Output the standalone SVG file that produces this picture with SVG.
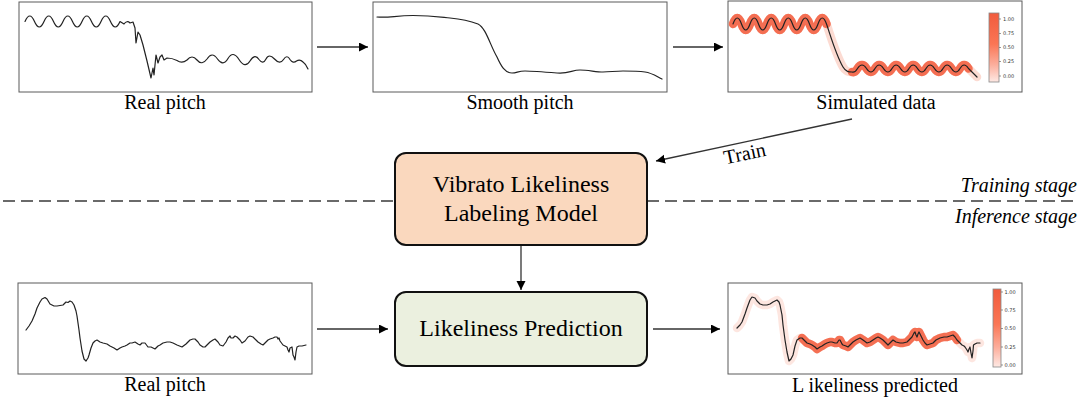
<svg xmlns="http://www.w3.org/2000/svg" width="1091" height="410" viewBox="0 0 1091 410">
<defs>
<style>
.frame{fill:#fff;stroke:#5a5a5a;stroke-width:1}
.pitch{fill:none;stroke:#222;stroke-width:1.2;stroke-linejoin:round;stroke-linecap:round}
.band-red{fill:none;stroke:#f36547;stroke-width:8.5;stroke-linejoin:round;stroke-linecap:round;opacity:0.92}
.band-pink{fill:none;stroke:#fbd2c7;stroke-width:8.5;stroke-linejoin:round;stroke-linecap:round;opacity:0.8}
.lbl{font-family:"Liberation Serif","Times New Roman",serif;font-size:20px;fill:#000;text-anchor:middle}
.boxtxt{font-family:"Liberation Serif","Times New Roman",serif;font-size:24px;fill:#000;text-anchor:middle}
.stage{font-family:"Liberation Serif","Times New Roman",serif;font-size:20px;font-style:italic;fill:#000;text-anchor:end}
.tick{font-family:"DejaVu Sans",sans-serif;font-size:5px;fill:#333}
.cbar{stroke:#888;stroke-width:0.8}
.tk{stroke:#555;stroke-width:0.6}
.arrow{fill:none;stroke:#333;stroke-width:1.3}
.dash{fill:none;stroke:#3a3a3a;stroke-width:1.5;stroke-dasharray:12 6}
.node{stroke:#111;stroke-width:2}
</style>
<marker id="ah" markerUnits="userSpaceOnUse" markerWidth="10" markerHeight="10" refX="9" refY="4.5" orient="auto">
<path d="M0,0 L9,4.5 L0,9 z" fill="#000"/>
</marker>
<linearGradient id="cb" x1="0" y1="0" x2="0" y2="1">
<stop offset="0" stop-color="#f15b3d"/>
<stop offset="0.45" stop-color="#fa7655"/>
<stop offset="0.75" stop-color="#fcae9c"/>
<stop offset="1" stop-color="#fee9e4"/>
</linearGradient>
</defs>
<rect width="1091" height="410" fill="#fff"/>

<g id="connectors">
<line class="dash" x1="3" y1="201" x2="395" y2="201"/>
<line class="dash" x1="647" y1="201" x2="1073" y2="201"/>
<line class="arrow" x1="317" y1="47" x2="368" y2="47" marker-end="url(#ah)"/>
<line class="arrow" x1="673" y1="47" x2="723" y2="47" marker-end="url(#ah)"/>
<line class="arrow" x1="852" y1="119" x2="656" y2="161" marker-end="url(#ah)"/>
<text class="lbl" transform="translate(746,160) rotate(-12)" font-size="19">Train</text>
<line class="arrow" x1="521" y1="245" x2="521" y2="290" marker-end="url(#ah)"/>
<line class="arrow" x1="317" y1="329" x2="388" y2="329" marker-end="url(#ah)"/>
<line class="arrow" x1="653" y1="329" x2="720" y2="329" marker-end="url(#ah)"/>
</g>

<g id="stage-labels">
<text class="stage" x="1077" y="192">Training stage</text>
<text class="stage" x="1077" y="223">Inference stage</text>
</g>

<g id="real-pitch-top">
<rect class="frame" x="19" y="2" width="293" height="90"/>
<path class="pitch" d="M25,21.5 Q29.75,10.5 34.5,21.5 T44,21.5 T53.5,21.5 T63,21.5 T72.5,21.5 T82,21.5 T91.5,21.5 T101,21.5 T110.5,21.5 T120,21.5 L124,24 Q127,20 130,23 L133,22 L135,28 L136,43 L138,32 L140,35 L143,45 L147,61 L151,78 L153,68 L154,75 L156,55 L158,63 L160,57 L162,55 L164,60 L167,58 Q172,58 177,60.5 Q182,64 187,60 Q192,54 197,60 Q202,66 207,59 Q212,51 217.5,59 Q223,67 228,58.5 Q233,50 239,59.5 Q245,69 250,61 Q255,53 259,59.5 Q263,65 266,59 Q269,53 274.5,59 Q280,65 283.5,59.5 Q287,54 290,59.5 Q293,64 296.5,61 Q300,59 303,62 Q306,64 308,69"/>
<text class="lbl" x="165" y="109">Real pitch</text>
</g>

<g id="smooth-pitch">
<rect class="frame" x="373" y="2" width="294" height="90"/>
<path class="pitch" d="M377,17 C390,18 395,15.5 413,15.5 S440,17 450,18 S470,21 478,24 C486,28 490,45 497,57 C501,66 505,73 512,73 C517,73 518,71 525,71 S545,72 557,73 S572,70 580,70 S596,72 603,72 S615,71 623,71 S638,71 645,72 S656,76 662,79"/>
<text class="lbl" x="520" y="109">Smooth pitch</text>
</g>

<g id="simulated-data">
<rect class="frame" x="728" y="1" width="294" height="91"/>
<path class="band-pink" d="M733,24 Q737.25,12 741.5,24 T750,24 T758.5,24 T767,24 T775.5,24 T784,24 T792.5,24 T801,24 T809.5,24 T818,24 T826.5,24 C830,34 836,55 843,67 C846,72 849,72 852,72 Q855,73 857.5,68.5 Q862,61.5 866.5,68.5 T875,68.5 T883.5,68.5 T892,68.5 T900.5,68.5 T909,68.5 T917.5,68.5 T926,68.5 T934.5,68.5 T943,68.5 T951.5,68.5 T960,68.5 T968.5,68.5 Q972,72 977,77"/>
<path class="band-red" d="M733,24 Q737.25,12 741.5,24 T750,24 T758.5,24 T767,24 T775.5,24 T784,24 T792.5,24 T801,24 T809.5,24 T818,24 T826.5,24"/>
<path class="band-red" d="M852,72 Q855,73 857.5,68.5 Q862,61.5 866.5,68.5 T875,68.5 T883.5,68.5 T892,68.5 T900.5,68.5 T909,68.5 T917.5,68.5 T926,68.5 T934.5,68.5 T943,68.5 T951.5,68.5 T960,68.5 T968.5,68.5"/>
<path class="pitch" d="M733,24 Q737.25,12 741.5,24 T750,24 T758.5,24 T767,24 T775.5,24 T784,24 T792.5,24 T801,24 T809.5,24 T818,24 T826.5,24 C830,34 836,55 843,67 C846,72 849,72 852,72 Q855,73 857.5,68.5 Q862,61.5 866.5,68.5 T875,68.5 T883.5,68.5 T892,68.5 T900.5,68.5 T909,68.5 T917.5,68.5 T926,68.5 T934.5,68.5 T943,68.5 T951.5,68.5 T960,68.5 T968.5,68.5 Q972,72 977,77"/>
<rect class="cbar" x="989" y="13" width="10" height="69" fill="url(#cb)"/>
<line class="tk" x1="999" y1="19" x2="1001" y2="19"/>
<line class="tk" x1="999" y1="33.5" x2="1001" y2="33.5"/>
<line class="tk" x1="999" y1="47.5" x2="1001" y2="47.5"/>
<line class="tk" x1="999" y1="61.5" x2="1001" y2="61.5"/>
<line class="tk" x1="999" y1="76" x2="1001" y2="76"/>
<text class="tick" x="1003" y="20.8">1.00</text>
<text class="tick" x="1003" y="35.3">0.75</text>
<text class="tick" x="1003" y="49.3">0.50</text>
<text class="tick" x="1003" y="63.3">0.25</text>
<text class="tick" x="1003" y="77.8">0.00</text>
<text class="lbl" x="876" y="109">Simulated data</text>
</g>

<g id="labeling-model">
<rect class="node" x="395" y="153" width="252" height="92" rx="11" ry="11" fill="#fad8be"/>
<text class="boxtxt" x="521" y="192">Vibrato Likeliness</text>
<text class="boxtxt" x="521" y="221">Labeling Model</text>
</g>

<g id="likeliness-prediction">
<rect class="node" x="395" y="292" width="252" height="74" rx="11" ry="11" fill="#ebf0df"/>
<text class="boxtxt" x="521" y="336">Likeliness Prediction</text>
</g>

<g id="real-pitch-bottom">
<rect class="frame" x="18" y="283" width="294" height="91"/>
<polyline class="pitch" points="26,330 29,326 32,321 35,314 37,308 40,302 42,299 45,297.5 47,299 50,304 54,306 57,306 60,305.5 63,305 66,302 68,302.5 70,301 72,302 74,305 76,311 77,316 79,330 80,338 82,351 84,359 86,361 88,358 89,355 91,348 93,343 95,341 97,340 100,342 103,343 107,344 110,346 114,348 117,350 120,348 122,347 125,346 127,345 130,343 132,343 135,342 138,344 140,345 142,343 145,343 148,347 151,347 155,349 158,346 160,345 163,343 167,342 170,342 173,343 177,345 182,347 186,344 190,340 193,339 195,339 198,342 200,345 203,347 205,347 208,344 210,342 213,340 215,339 218,342 220,345 223,346 226,342 228,338 230,336 231,338 233,338 235,336 237,337 240,340 242,343 245,341 248,337 250,336 253,337 256,340 258,342 261,344 263,345 266,342 268,340 270,339 273,338 275,337 277,337 278,339 279,338 280,341 283,345 285,346 287,347 288,350 289,352 290,348 292,347 293,355 294,357 295,360 296,352 297,347 299,346 302,346 306,345"/>
<text class="lbl" x="165" y="391">Real pitch</text>
</g>

<g id="likeliness-predicted">
<rect class="frame" x="728" y="283" width="294" height="91"/>
<polyline class="band-pink" points="737,328 740,325 742,322 745,314 747,308 750,300 752,297 755,298 757,301 760,304 763,305 767,305 770,304 773,302 775,301 777,300 779,302 780,305 782,315 783,325 785,340 787,352 789,361 791,359 793,355 795,346 797,340 800,338 802,338 805,341 807,343 810,344 812,345 815,347 817,349 820,347 822,346 825,344 827,343 830,342 832,342 835,343 837,343 839,340 840,340 842,344 843,345 846,346 848,347 850,345 853,342 856,340 860,338 863,340 867,343 870,342 873,340 876,338 878,337 880,338 883,340 886,343 888,345 891,342 893,340 896,342 900,343 903,343 907,342 910,339 912,337 914,333 915,332 916,335 917,337 918,334 919,332 921,336 923,340 925,343 927,345 930,344 933,343 936,340 940,338 944,337 947,337 950,336 953,335 955,337 957,340 960,343 962,345 964,346 965,347 967,350 968,352 969,349 970,347 971,353 972,358 973,351 973.5,345 975,344 977,343 980,343" style="opacity:0.55"/>
<polyline class="band-red" points="802,338 805,341 807,343 810,344 812,345 815,347 817,349 820,347 822,346 825,344 827,343 830,342 832,342 835,343 837,343 839,340 840,340 842,344 843,345 846,346 848,347 850,345 853,342 856,340 860,338 863,340 867,343 870,342 873,340 876,338 878,337 880,338 883,340 886,343 888,345 891,342 893,340 896,342 900,343 903,343 907,342 910,339 912,337 914,333 915,332 916,335 917,337 918,334 919,332 921,336 923,340 925,343 927,345 930,344 933,343 936,340 940,338 944,337 947,337 950,336 953,335 955,337 957,340"/>
<polyline class="pitch" points="737,328 740,325 742,322 745,314 747,308 750,300 752,297 755,298 757,301 760,304 763,305 767,305 770,304 773,302 775,301 777,300 779,302 780,305 782,315 783,325 785,340 787,352 789,361 791,359 793,355 795,346 797,340 800,338 802,338 805,341 807,343 810,344 812,345 815,347 817,349 820,347 822,346 825,344 827,343 830,342 832,342 835,343 837,343 839,340 840,340 842,344 843,345 846,346 848,347 850,345 853,342 856,340 860,338 863,340 867,343 870,342 873,340 876,338 878,337 880,338 883,340 886,343 888,345 891,342 893,340 896,342 900,343 903,343 907,342 910,339 912,337 914,333 915,332 916,335 917,337 918,334 919,332 921,336 923,340 925,343 927,345 930,344 933,343 936,340 940,338 944,337 947,337 950,336 953,335 955,337 957,340 960,343 962,345 964,346 965,347 967,350 968,352 969,349 970,347 971,353 972,358 973,351 973.5,345 975,344 977,343 980,343"/>
<rect class="cbar" x="993" y="289" width="8" height="78" fill="url(#cb)"/>
<line class="tk" x1="1001" y1="292" x2="1003" y2="292"/>
<line class="tk" x1="1001" y1="310" x2="1003" y2="310"/>
<line class="tk" x1="1001" y1="328.5" x2="1003" y2="328.5"/>
<line class="tk" x1="1001" y1="347" x2="1003" y2="347"/>
<line class="tk" x1="1001" y1="365" x2="1003" y2="365"/>
<text class="tick" x="1004.5" y="293.8">1.00</text>
<text class="tick" x="1004.5" y="311.8">0.75</text>
<text class="tick" x="1004.5" y="330.3">0.50</text>
<text class="tick" x="1004.5" y="348.8">0.25</text>
<text class="tick" x="1004.5" y="366.8">0.00</text>
<text class="lbl" x="875" y="392">L ikeliness predicted</text>
</g>
</svg>
